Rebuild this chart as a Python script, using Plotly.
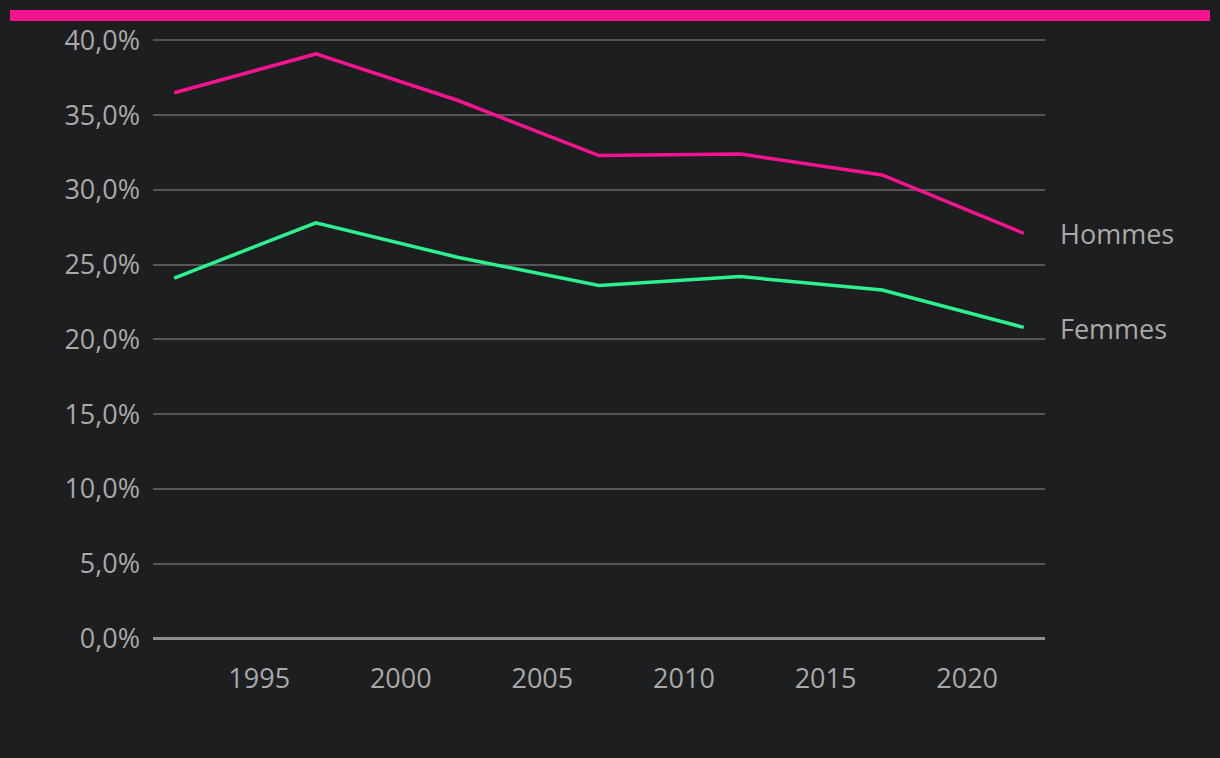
import plotly.graph_objects as go

years = [1992, 1997, 2002, 2007, 2012, 2017, 2022]
hommes = [36.5, 39.1, 36.0, 32.3, 32.4, 31.0, 27.1]
femmes = [24.1, 27.8, 25.5, 23.6, 24.2, 23.3, 20.8]
y_ticks = [0, 5, 10, 15, 20, 25, 30, 35, 40]
y_labels = [f"{v:.1f}".replace(".", ",") + "%" for v in y_ticks]
x_ticks = [1995, 2000, 2005, 2010, 2015, 2020]

PINK = "#f5148f"
GREEN = "#2ef08e"
BG = "#1d1e20"
TXT = "#a9a9a9"
FONT = "'Open Sans', 'Noto Sans', sans-serif"
FS = 27

fig = go.Figure()
fig.add_trace(go.Scatter(x=years, y=hommes, mode="lines", name="Hommes",
                         line=dict(color=PINK, width=3.5)))
fig.add_trace(go.Scatter(x=years, y=femmes, mode="lines", name="Femmes",
                         line=dict(color=GREEN, width=3.5)))

for name, vals, dy in [("Hommes", hommes, 0), ("Femmes", femmes, -1)]:
    fig.add_annotation(x=years[-1], y=vals[-1], text=name, showarrow=False,
                       xanchor="left", yanchor="middle", xshift=34, yshift=dy,
                       font=dict(family=FONT, size=FS, color=TXT))

fig.add_shape(type="rect", xref="paper", yref="paper",
              x0=-0.1603, x1=1.185, y0=1.030, y1=1.0483,
              fillcolor=PINK, line=dict(width=0), layer="above")

fig.update_layout(
    width=1220, height=758,
    paper_bgcolor=BG, plot_bgcolor=BG,
    margin=dict(l=153, r=175, t=39, b=119),
    showlegend=False,
    font=dict(family=FONT, size=FS, color=TXT),
    xaxis=dict(range=[1991.25, 2022.75], tickvals=x_ticks, showgrid=False,
               zeroline=False, showline=False, ticks="", ticklabelstandoff=21,
               tickfont=dict(size=FS, color=TXT)),
    yaxis=dict(range=[-0.05, 40.1], tickvals=y_ticks, ticktext=y_labels,
               showgrid=True, gridcolor="#555555", gridwidth=1.5,
               zeroline=True, zerolinecolor="#8e8e8e", zerolinewidth=3,
               showline=False, ticks="", ticklabelstandoff=12,
               tickfont=dict(size=FS, color=TXT)),
)

fig.write_html("out.html", config={"displayModeBar": False}, post_script=(
    "document.body.style.margin='0';"
    "document.body.style.background='#1d1e20';"
    "document.documentElement.style.background='#1d1e20';"
))
